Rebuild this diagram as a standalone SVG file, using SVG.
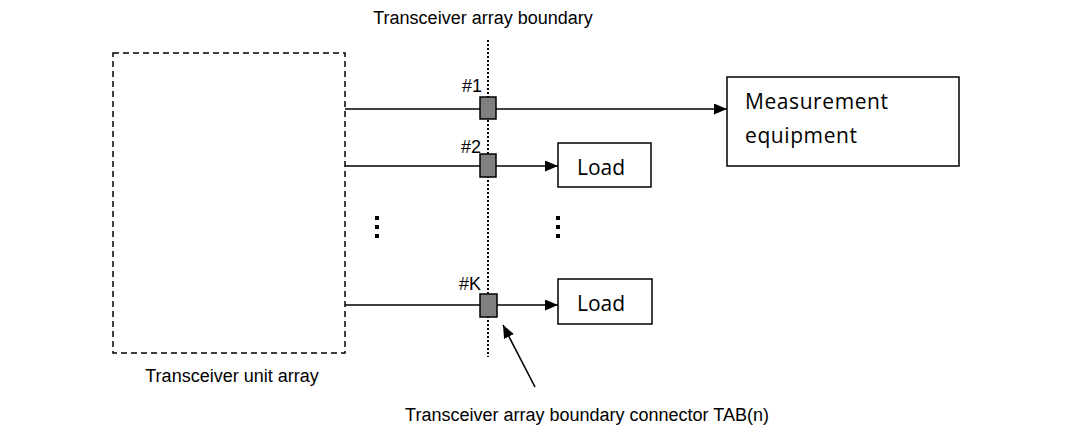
<svg xmlns="http://www.w3.org/2000/svg" width="1080" height="434" viewBox="0 0 1080 434">
<style>
.lbl{font-family:"Liberation Sans",Arial,sans-serif;font-size:18px;fill:#000}
.big{font-family:"Open Sans","Noto Sans",sans-serif;font-size:21px;fill:#000}
.box{fill:#fff;stroke:#000;stroke-width:1.5}
.tab{fill:#808080;stroke:#000;stroke-width:1.5}
.ln{stroke:#000;stroke-width:1.6;fill:none}
</style>
<defs>
<marker id="ah" markerWidth="13" markerHeight="11" refX="13" refY="5.5" orient="auto" markerUnits="userSpaceOnUse">
<path d="M0,0 L13,5.5 L0,11 Z" fill="#000"/>
</marker>
</defs>
<rect width="1080" height="434" fill="#fff"/>
<g id="unit-array">
<rect x="113" y="53" width="232" height="300" fill="none" stroke="#000" stroke-width="1.5" stroke-dasharray="6,4"/>
<text class="lbl" x="232" y="382" text-anchor="middle">Transceiver unit array</text>
</g>
<g id="boundary">
<line x1="488" y1="40" x2="488" y2="357" stroke="#000" stroke-width="2" stroke-dasharray="2,2"/>
<text class="lbl" x="483" y="24" text-anchor="middle">Transceiver array boundary</text>
</g>
<g id="connectors">
<line class="ln" x1="345" y1="109" x2="727" y2="109" marker-end="url(#ah)"/>
<line class="ln" x1="345" y1="166" x2="558" y2="166" marker-end="url(#ah)"/>
<line class="ln" x1="345" y1="305" x2="558" y2="305" marker-end="url(#ah)"/>
<line class="ln" x1="535" y1="387" x2="503" y2="325" marker-end="url(#ah)"/>
</g>
<g id="tab1"><rect class="tab" x="480" y="97" width="16" height="22"/><text class="lbl" x="462" y="92">#1</text></g>
<g id="tab2"><rect class="tab" x="480" y="154" width="16" height="23"/><text class="lbl" x="461" y="153">#2</text></g>
<g id="tabK"><rect class="tab" x="480" y="294" width="17" height="23"/><text class="lbl" x="459" y="290">#K</text></g>
<g id="measurement">
<rect class="box" x="727" y="77" width="232" height="89"/>
<text class="big" x="745" y="109" textLength="143">Measurement</text>
<text class="big" x="745" y="143" textLength="112">equipment</text>
</g>
<g id="load2"><rect class="box" x="558" y="143" width="93" height="44"/><text class="big" x="577" y="175" textLength="48">Load</text></g>
<g id="loadK"><rect class="box" x="558" y="279" width="94" height="45"/><text class="big" x="577" y="311" textLength="48">Load</text></g>
<g id="ellipsis" fill="#000">
<rect x="375" y="216" width="4" height="4"/><rect x="375" y="225" width="4" height="4"/><rect x="375" y="234" width="4" height="4"/>
<rect x="556" y="216" width="4" height="4"/><rect x="556" y="225" width="4" height="4"/><rect x="556" y="234" width="4" height="4"/>
</g>
<g id="tab-label"><text class="lbl" x="587" y="421" text-anchor="middle">Transceiver array boundary connector TAB(n)</text></g>
</svg>
